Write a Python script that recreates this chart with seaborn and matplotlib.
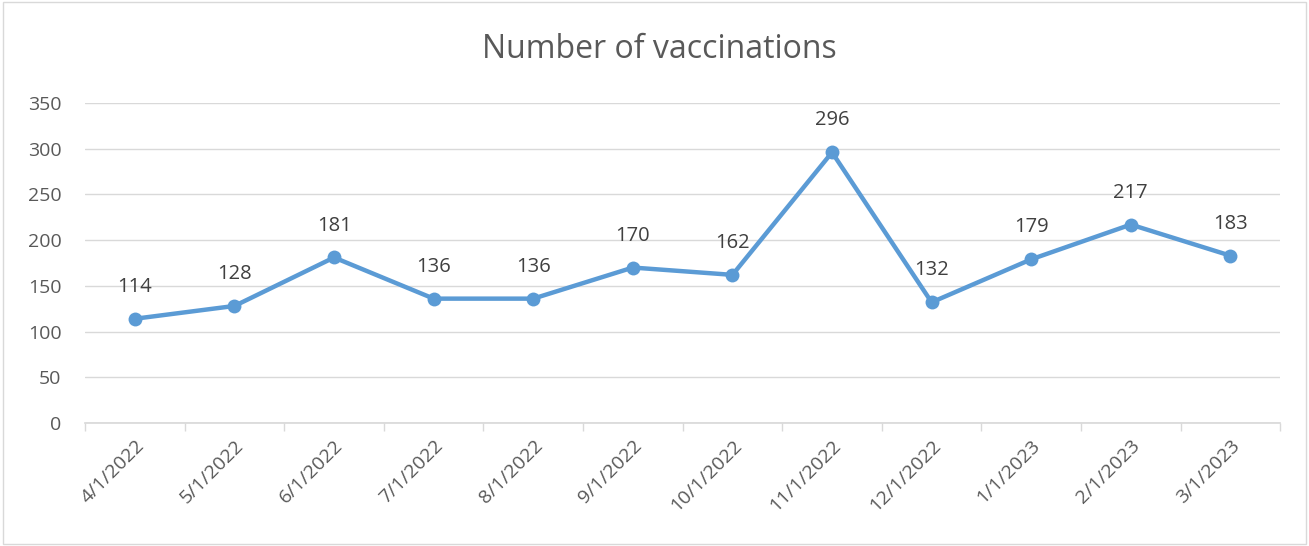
import matplotlib
matplotlib.use("Agg")
import matplotlib.pyplot as plt
import seaborn as sns
import pandas as pd

months = ["4/1/2022", "5/1/2022", "6/1/2022", "7/1/2022", "8/1/2022", "9/1/2022",
          "10/1/2022", "11/1/2022", "12/1/2022", "1/1/2023", "2/1/2023", "3/1/2023"]
vaccinations = [114, 128, 181, 136, 136, 170, 162, 296, 132, 179, 217, 183]

df = pd.DataFrame({"pos": range(len(months)), "month": months, "n": vaccinations})

sns.set_theme(style="white")
plt.rcParams['font.family'] = ['Open Sans', 'DejaVu Sans']

fig = plt.figure(figsize=(13.09, 5.46), dpi=100)
ax = fig.add_axes([0.065, 0.2253, 0.913, 0.5861])

sns.lineplot(data=df, x="pos", y="n", ax=ax, color="#5B9BD5", linewidth=3.2,
             marker="o", markersize=10, markeredgewidth=0)

for x, y in zip(df["pos"], df["n"]):
    ax.annotate(str(y), (x, y), xytext=(0, 23), textcoords="offset points",
                ha="center", va="center", fontsize=14.5, color="#404040")

ax.set_xlim(-0.5, len(months) - 0.5)
ax.set_ylim(0, 350)
ax.set_yticks(range(0, 351, 50))
ax.yaxis.grid(True, color="#D9D9D9", linewidth=1)
ax.set_axisbelow(True)

ax.set_xticks([i - 0.5 for i in range(len(months) + 1)])
ax.set_xticklabels([])
ax.set_xticks(range(len(months)), minor=True)
ax.set_xticklabels(months, minor=True, rotation=45, ha="right", rotation_mode="anchor",
                   fontsize=14, color="#595959")
ax.tick_params(axis="x", which="major", length=6, color="#D9D9D9", width=1, bottom=True)
ax.tick_params(axis="x", which="minor", length=0, pad=10)
ax.tick_params(axis="y", length=0, labelsize=14, labelcolor="#595959", pad=17)

for s in ["top", "right", "left"]:
    ax.spines[s].set_visible(False)
ax.spines["bottom"].set_color("#D9D9D9")
ax.set_xlabel("")
ax.set_ylabel("")

fig.text(0.504, 0.91, "Number of vaccinations", ha="center", va="center",
         fontsize=23, color="#595959")

fig.patches.append(plt.Rectangle((0.002, 0.004), 0.996, 0.992, transform=fig.transFigure,
                                 fill=False, edgecolor="#D9D9D9", linewidth=1))

fig.savefig("out.png", dpi=100)
